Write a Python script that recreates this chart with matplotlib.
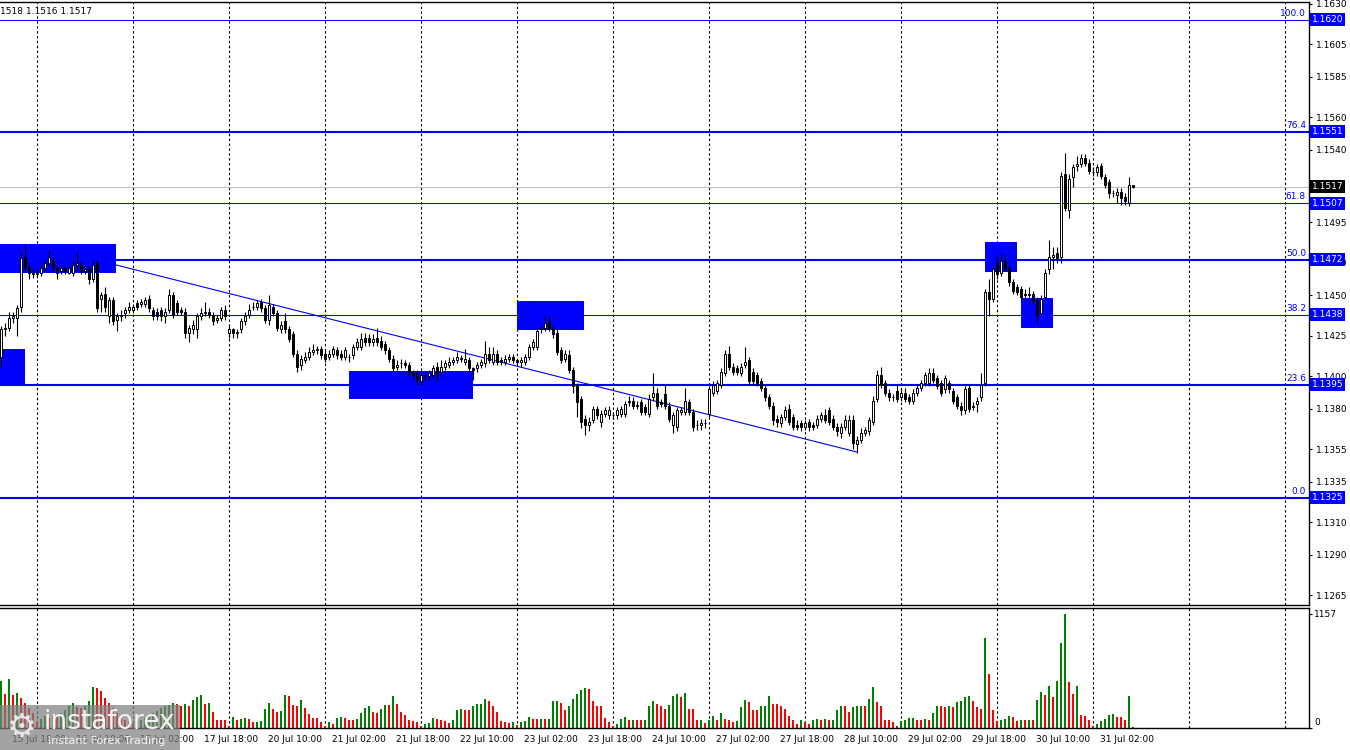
import matplotlib
matplotlib.use('Agg')
import matplotlib.pyplot as plt
import matplotlib.transforms as mtransforms
from matplotlib.patches import Rectangle

# ---------------- data (EURUSD H1) ----------------
opens = [1.1412,1.1429,1.1430,1.1436,1.1436,1.1443,1.1474,1.1467,1.1464,1.1463,
1.1464,1.1467,1.1470,1.1471,1.1467,1.1465,1.1467,1.1464,1.1464,1.1469,
1.1469,1.1465,1.1466,1.1460,1.1470,1.1448,1.1451,1.1437,1.1447,1.1435,
1.1437,1.1439,1.1441,1.1441,1.1445,1.1445,1.1445,1.1448,1.1441,1.1440,
1.1441,1.1437,1.1441,1.1450,1.1445,1.1441,1.1440,1.1427,1.1429,1.1429,
1.1437,1.1439,1.1440,1.1438,1.1435,1.1436,1.1441,1.1427,1.1429,1.1427,
1.1429,1.1434,1.1438,1.1443,1.1443,1.1446,1.1442,1.1435,1.1443,1.1439,
1.1429,1.1434,1.1429,1.1426,1.1414,1.1407,1.1410,1.1412,1.1415,1.1416,
1.1417,1.1414,1.1412,1.1414,1.1416,1.1414,1.1412,1.1412,1.1413,1.1418,
1.1418,1.1424,1.1424,1.1421,1.1424,1.1422,1.1420,1.1416,1.1411,1.1406,
1.1408,1.1408,1.1407,1.1403,1.1402,1.1397,1.1401,1.1400,1.1401,1.1406,
1.1403,1.1406,1.1407,1.1409,1.1410,1.1411,1.1409,1.1410,1.1405,1.1405,
1.1407,1.1408,1.1414,1.1409,1.1414,1.1410,1.1409,1.1411,1.1412,1.1410,
1.1409,1.1409,1.1412,1.1418,1.1418,1.1429,1.1430,1.1434,1.1430,1.1427,
1.1416,1.1411,1.1413,1.1404,1.1394,1.1386,1.1374,1.1370,1.1373,1.1380,
1.1372,1.1377,1.1376,1.1376,1.1376,1.1377,1.1377,1.1385,1.1385,1.1382,
1.1384,1.1381,1.1377,1.1387,1.1390,1.1384,1.1389,1.1382,1.1370,1.1369,
1.1378,1.1378,1.1384,1.1378,1.1370,1.1370,1.1371,1.1377,1.1390,1.1391,
1.1395,1.1402,1.1414,1.1406,1.1405,1.1402,1.1407,1.1410,1.1403,1.1401,
1.1397,1.1393,1.1387,1.1382,1.1374,1.1371,1.1375,1.1380,1.1375,1.1370,
1.1371,1.1369,1.1372,1.1370,1.1370,1.1374,1.1376,1.1379,1.1374,1.1369,
1.1365,1.1369,1.1365,1.1373,1.1358,1.1361,1.1365,1.1366,1.1372,1.1386,
1.1401,1.1396,1.1390,1.1387,1.1391,1.1387,1.1390,1.1387,1.1385,1.1390,
1.1393,1.1396,1.1396,1.1402,1.1399,1.1396,1.1392,1.1396,1.1391,1.1387,
1.1382,1.1379,1.1393,1.1382,1.1383,1.1387,1.1396,1.1452,1.1448,1.1470,
1.1464,1.1471,1.1467,1.1458,1.1455,1.1454,1.1451,1.1450,1.1451,1.1447,
1.1439,1.1449,1.1466,1.1474,1.1476,1.1474,1.1525,1.1503,1.1523,1.1530,
1.1531,1.1535,1.1532,1.1526,1.1526,1.1530,1.1523,1.1520,1.1513,1.1512,
1.1514,1.1511,1.1507,1.1518]
highs = [1.1431,1.1433,1.1440,1.1440,1.1444,1.1476,1.1482,1.1470,1.1466,1.1466,
1.1469,1.1472,1.1478,1.1474,1.1468,1.1469,1.1468,1.1469,1.1471,1.1477,
1.1471,1.1470,1.1468,1.1471,1.1472,1.1452,1.1455,1.1449,1.1449,1.1439,
1.1441,1.1443,1.1446,1.1445,1.1447,1.1448,1.1449,1.1450,1.1443,1.1442,
1.1443,1.1442,1.1454,1.1452,1.1447,1.1443,1.1442,1.1432,1.1435,1.1439,
1.1442,1.1446,1.1442,1.1440,1.1438,1.1443,1.1444,1.1431,1.1430,1.1429,
1.1436,1.1440,1.1445,1.1446,1.1447,1.1448,1.1444,1.1450,1.1445,1.1441,
1.1434,1.1439,1.1431,1.1428,1.1416,1.1413,1.1415,1.1418,1.1420,1.1419,
1.1419,1.1416,1.1416,1.1419,1.1418,1.1416,1.1418,1.1414,1.1420,1.1424,
1.1427,1.1427,1.1426,1.1426,1.1430,1.1425,1.1422,1.1418,1.1413,1.1410,
1.1411,1.1410,1.1409,1.1404,1.1404,1.1403,1.1403,1.1404,1.1407,1.1409,
1.1410,1.1410,1.1412,1.1412,1.1415,1.1413,1.1417,1.1412,1.1406,1.1409,
1.1411,1.1422,1.1418,1.1418,1.1416,1.1412,1.1413,1.1414,1.1414,1.1411,
1.1412,1.1414,1.1420,1.1423,1.1430,1.1432,1.1437,1.1437,1.1432,1.1429,
1.1418,1.1416,1.1416,1.1406,1.1396,1.1388,1.1376,1.1375,1.1382,1.1382,
1.1379,1.1381,1.1382,1.1378,1.1381,1.1382,1.1385,1.1388,1.1387,1.1385,
1.1386,1.1383,1.1389,1.1402,1.1393,1.1386,1.1395,1.1384,1.1378,1.1381,
1.1381,1.1393,1.1386,1.1380,1.1373,1.1374,1.1374,1.1394,1.1397,1.1398,
1.1405,1.1416,1.1419,1.1408,1.1407,1.1408,1.1418,1.1412,1.1405,1.1403,
1.1399,1.1395,1.1389,1.1384,1.1376,1.1377,1.1382,1.1383,1.1377,1.1373,
1.1373,1.1373,1.1374,1.1372,1.1376,1.1378,1.1380,1.1381,1.1376,1.1371,
1.1371,1.1376,1.1376,1.1376,1.1363,1.1368,1.1369,1.1375,1.1388,1.1404,
1.1406,1.1398,1.1392,1.1389,1.1395,1.1392,1.1393,1.1389,1.1392,1.1395,
1.1398,1.1403,1.1405,1.1405,1.1401,1.1398,1.1401,1.1398,1.1393,1.1389,
1.1384,1.1394,1.1395,1.1384,1.1387,1.1402,1.1454,1.1460,1.1468,1.1474,
1.1476,1.1475,1.1469,1.1460,1.1457,1.1456,1.1454,1.1455,1.1453,1.1449,
1.1450,1.1466,1.1484,1.1480,1.1480,1.1526,1.1538,1.1525,1.1531,1.1536,
1.1537,1.1537,1.1534,1.1529,1.1531,1.1532,1.1525,1.1522,1.1515,1.1516,
1.1516,1.1513,1.1523,1.1518]
lows = [1.1406,1.1425,1.1428,1.1433,1.1425,1.1440,1.1465,1.1460,1.1461,1.1461,
1.1462,1.1465,1.1469,1.1465,1.1460,1.1463,1.1463,1.1463,1.1462,1.1466,
1.1463,1.1463,1.1457,1.1458,1.1440,1.1440,1.1440,1.1433,1.1432,1.1428,
1.1434,1.1436,1.1439,1.1439,1.1441,1.1443,1.1443,1.1440,1.1435,1.1435,
1.1434,1.1433,1.1439,1.1436,1.1438,1.1438,1.1424,1.1421,1.1426,1.1424,
1.1435,1.1437,1.1436,1.1432,1.1433,1.1434,1.1435,1.1424,1.1424,1.1424,
1.1427,1.1432,1.1436,1.1441,1.1441,1.1440,1.1433,1.1432,1.1437,1.1428,
1.1427,1.1427,1.1421,1.1412,1.1403,1.1404,1.1408,1.1410,1.1413,1.1414,
1.1411,1.1409,1.1410,1.1412,1.1411,1.1410,1.1410,1.1409,1.1411,1.1416,
1.1416,1.1419,1.1419,1.1419,1.1419,1.1416,1.1414,1.1409,1.1403,1.1404,
1.1405,1.1405,1.1400,1.1398,1.1395,1.1395,1.1398,1.1398,1.1399,1.1397,
1.1400,1.1404,1.1405,1.1407,1.1408,1.1409,1.1407,1.1403,1.1398,1.1403,
1.1405,1.1406,1.1408,1.1407,1.1407,1.1407,1.1407,1.1409,1.1408,1.1407,
1.1406,1.1407,1.1410,1.1416,1.1416,1.1427,1.1428,1.1428,1.1424,1.1413,
1.1408,1.1409,1.1402,1.1390,1.1375,1.1368,1.1364,1.1366,1.1371,1.1374,
1.1369,1.1375,1.1374,1.1374,1.1374,1.1375,1.1375,1.1382,1.1380,1.1380,
1.1376,1.1376,1.1375,1.1385,1.1380,1.1381,1.1380,1.1372,1.1365,1.1366,
1.1376,1.1376,1.1376,1.1366,1.1367,1.1367,1.1368,1.1375,1.1388,1.1389,
1.1393,1.1400,1.1404,1.1401,1.1401,1.1400,1.1405,1.1395,1.1395,1.1394,
1.1391,1.1385,1.1380,1.1370,1.1369,1.1369,1.1373,1.1370,1.1367,1.1367,
1.1366,1.1367,1.1366,1.1367,1.1368,1.1372,1.1371,1.1370,1.1367,1.1363,
1.1362,1.1367,1.1363,1.1355,1.1353,1.1359,1.1363,1.1364,1.1370,1.1384,
1.1393,1.1388,1.1385,1.1385,1.1384,1.1385,1.1384,1.1383,1.1383,1.1388,
1.1391,1.1394,1.1394,1.1396,1.1392,1.1388,1.1390,1.1390,1.1383,1.1380,
1.1376,1.1377,1.1378,1.1379,1.1378,1.1385,1.1394,1.1437,1.1446,1.1460,
1.1462,1.1465,1.1456,1.1451,1.1450,1.1447,1.1448,1.1448,1.1445,1.1433,
1.1437,1.1447,1.1463,1.1466,1.1470,1.1470,1.1502,1.1498,1.1517,1.1527,
1.1529,1.1530,1.1525,1.1524,1.1524,1.1522,1.1516,1.1510,1.1511,1.1507,
1.1506,1.1506,1.1505,1.1516]
closes = [1.1429,1.1430,1.1436,1.1437,1.1442,1.1473,1.1467,1.1464,1.1463,1.1464,
1.1467,1.1470,1.1474,1.1467,1.1464,1.1467,1.1465,1.1467,1.1469,1.1470,
1.1465,1.1466,1.1460,1.1469,1.1442,1.1450,1.1443,1.1447,1.1434,1.1437,
1.1438,1.1441,1.1443,1.1443,1.1443,1.1446,1.1447,1.1442,1.1437,1.1437,
1.1437,1.1440,1.1450,1.1438,1.1440,1.1440,1.1427,1.1430,1.1432,1.1437,
1.1439,1.1440,1.1438,1.1434,1.1436,1.1441,1.1437,1.1429,1.1427,1.1427,
1.1434,1.1437,1.1441,1.1443,1.1445,1.1442,1.1435,1.1444,1.1439,1.1430,
1.1432,1.1429,1.1423,1.1414,1.1406,1.1411,1.1412,1.1415,1.1416,1.1417,
1.1413,1.1411,1.1414,1.1417,1.1413,1.1412,1.1416,1.1412,1.1418,1.1421,
1.1423,1.1421,1.1421,1.1423,1.1421,1.1418,1.1416,1.1411,1.1405,1.1407,
1.1408,1.1407,1.1403,1.1401,1.1398,1.1401,1.1400,1.1402,1.1405,1.1402,
1.1406,1.1408,1.1409,1.1410,1.1412,1.1411,1.1411,1.1405,1.1404,1.1407,
1.1409,1.1414,1.1410,1.1414,1.1409,1.1409,1.1411,1.1412,1.1410,1.1409,
1.1410,1.1412,1.1418,1.1421,1.1428,1.1430,1.1433,1.1430,1.1426,1.1415,
1.1410,1.1414,1.1404,1.1394,1.1384,1.1372,1.1370,1.1372,1.1380,1.1376,
1.1377,1.1379,1.1379,1.1376,1.1379,1.1380,1.1383,1.1384,1.1382,1.1382,
1.1378,1.1378,1.1386,1.1390,1.1382,1.1383,1.1382,1.1374,1.1376,1.1379,
1.1379,1.1385,1.1378,1.1369,1.1370,1.1371,1.1371,1.1392,1.1395,1.1396,
1.1403,1.1414,1.1406,1.1403,1.1403,1.1406,1.1409,1.1397,1.1397,1.1396,
1.1393,1.1387,1.1382,1.1373,1.1372,1.1375,1.1379,1.1372,1.1369,1.1369,
1.1369,1.1371,1.1369,1.1369,1.1374,1.1376,1.1373,1.1372,1.1369,1.1366,
1.1369,1.1373,1.1373,1.1359,1.1361,1.1365,1.1367,1.1373,1.1385,1.1401,
1.1395,1.1390,1.1387,1.1387,1.1386,1.1390,1.1386,1.1385,1.1390,1.1393,
1.1396,1.1401,1.1402,1.1398,1.1394,1.1390,1.1399,1.1392,1.1385,1.1382,
1.1379,1.1392,1.1380,1.1381,1.1385,1.1395,1.1452,1.1448,1.1466,1.1463,
1.1471,1.1467,1.1458,1.1453,1.1452,1.1449,1.1450,1.1451,1.1447,1.1438,
1.1448,1.1464,1.1474,1.1475,1.1473,1.1524,1.1504,1.1522,1.1529,1.1531,
1.1535,1.1532,1.1527,1.1526,1.1529,1.1524,1.1518,1.1513,1.1513,1.1514,
1.1510,1.1508,1.1518,1.1517]
volumes = [482,347,499,330,354,
300,250,200,150,60,90,120,100,130,110,150,180,
220,250,212,202,226,270,
415,404,371,303,250,200,
150,110,80,60,40,60,80,100,120,150,170,200,220,
236,250,246,226,246,226,286,313,337,246,
253,158,84,78,77,24,111,78,91,101,
91,57,64,66,192,253,192,158,168,337,
320,236,226,286,202,145,98,97,57,24,
57,44,101,111,101,78,77,91,152,202,
226,158,152,192,236,235,327,246,158,135,
78,67,57,24,44,51,101,91,84,67,
51,84,185,190,179,178,219,246,247,293,
270,226,158,67,57,55,57,34,57,67,
111,91,90,92,91,93,270,271,253,185,
219,293,347,388,404,394,270,226,219,101,
57,24,44,91,111,78,84,78,77,78,
226,270,246,226,192,236,327,347,310,354,
195,194,84,86,51,78,125,78,152,94,
78,57,74,212,286,259,185,180,226,227,
327,246,245,226,192,118,78,44,84,57,
44,84,94,78,94,84,86,185,226,225,
158,212,219,226,225,297,415,259,219,84,
78,57,24,74,78,101,102,78,77,94,
78,152,226,225,212,219,212,266,270,313,
320,270,212,192,
910,549,179,76,78,91,125,111,67,84,
83,85,80,286,361,337,428,310,472,866,1157,
462,347,428,128,118,78,24,40,67,94,
128,145,111,110,84,327,10]

fib_prices = [1.1620, 1.1551, 1.1507, 1.1472, 1.1438, 1.1395, 1.1325]
fib_names = ["100.0", "76.4", "61.8", "50.0", "38.2", "23.6", "0.0"]
fib_widths = [0.75, 1.5, 0.75, 1.5, 0.75, 1.5, 1.5]
current_price = 1.1517

# zones: (start index, end index, low price, high price)
zone_x0 = [-0.5, -0.5, 87.0, 129.0, 246.0, 255.0]
zone_x1 = [28.75, 6.0, 118.0, 145.75, 254.0, 263.0]
zone_lo = [1.14638, 1.13953, 1.13860, 1.14286, 1.14644, 1.14299]
zone_hi = [1.14817, 1.14169, 1.14033, 1.14465, 1.14830, 1.14484]

trend_x = [28.75, 214.0]
trend_y = [1.14688, 1.13533]

price_ticks = [1.1630, 1.1605, 1.1585, 1.1560, 1.1540, 1.1495, 1.1470,
               1.1450, 1.1425, 1.1400, 1.1380, 1.1355, 1.1335, 1.1310, 1.1290, 1.1265]
date_pos = [3, 19, 35, 51, 67, 83, 99, 115, 131, 147, 163, 179, 195, 211, 227, 243, 259, 275]
date_labels = ["15 Jul 18:00", "16 Jul 10:00", "17 Jul 02:00", "17 Jul 18:00", "20 Jul 10:00",
               "21 Jul 02:00", "21 Jul 18:00", "22 Jul 10:00", "23 Jul 02:00", "23 Jul 18:00",
               "24 Jul 10:00", "27 Jul 02:00", "27 Jul 18:00", "28 Jul 10:00", "29 Jul 02:00",
               "29 Jul 18:00", "30 Jul 10:00", "31 Jul 02:00"]
day_starts = [9 + 24 * k for k in range(14)]
vol_max = 1157

# ---------------- figure ----------------
W, H = 1350, 750
fig = plt.figure(figsize=(W / 100, H / 100), dpi=100)
fig.patch.set_facecolor('white')


def fy(py):
    return 1 - py / H


ax = fig.add_axes([0, fy(605), 1309 / W, fy(2) - fy(605)])
axv = fig.add_axes([0, fy(728), 1309 / W, fy(608) - fy(728)])

XMIN, XMAX = -0.25, 327.0
BLUE = '#0000FF'
FS = 6.5

for a in (ax, axv):
    a.set_xlim(XMIN, XMAX)
    a.set_facecolor('white')
    a.spines['left'].set_visible(False)
    for s in ('top', 'right', 'bottom'):
        a.spines[s].set_linewidth(1.0)
        a.spines[s].set_color('black')
    a.set_xticks([])
    for d in day_starts:
        a.axvline(d, color='black', lw=0.8, ls=(0, (2.2, 2.2)), zorder=0.5)

ax.set_ylim(1.12589, 1.16311)
axv.set_ylim(0, 1218)

n = len(closes)
xs = list(range(n))

# zones
for x0, x1, lo, hi in zip(zone_x0, zone_x1, zone_lo, zone_hi):
    ax.add_patch(Rectangle((x0, lo), x1 - x0, hi - lo, facecolor=BLUE, edgecolor='none', zorder=1.5))

# fib lines
for p, w in zip(fib_prices, fib_widths):
    ax.axhline(p, color=BLUE, lw=w, zorder=1)
ax.axhline(current_price, color='#C0C0C0', lw=0.8, zorder=0.8)
ax.plot(trend_x, trend_y, color=BLUE, lw=0.8, zorder=1.2)

# candles
ax.vlines(xs, lows, highs, color='black', lw=0.8, zorder=3)
bottoms = [min(o, c) for o, c in zip(opens, closes)]
heights = [max(abs(c - o), 0.000012) for o, c in zip(opens, closes)]
faces = ['white' if c >= o else 'black' for o, c in zip(opens, closes)]
ax.bar(xs, heights, bottom=bottoms, width=0.55, color=faces, edgecolor='black', linewidth=0.7, zorder=4)

# fib labels
for p, name in zip(fib_prices, fib_names):
    ax.annotate(name, xy=(326.25, p), xytext=(0, 1.2), textcoords='offset points',
                ha='right', va='bottom', color=BLUE, fontsize=FS, zorder=5)

# right price axis
ax.yaxis.tick_right()
ax.set_yticks(price_ticks)
ax.set_yticklabels(['%.4f' % t for t in price_ticks])
ax.tick_params(axis='y', direction='out', length=2.5, width=0.8, pad=2.5, labelsize=FS, colors='black')

blend = mtransforms.blended_transform_factory(ax.transAxes, ax.transData)
for p in fib_prices:
    ax.text(1.0022, p, '%.4f' % p, transform=blend, ha='left', va='center', color='white',
            fontsize=FS, clip_on=False, zorder=10,
            bbox=dict(boxstyle='square,pad=0.22', fc=BLUE, ec='none'))
ax.text(1.0022, current_price, '%.4f' % current_price, transform=blend, ha='left', va='center',
        color='white', fontsize=FS, clip_on=False, zorder=10,
        bbox=dict(boxstyle='square,pad=0.22', fc='black', ec='none'))

# volumes
vcol = ['#008000'] + ['#008000' if volumes[i] > volumes[i - 1] else '#FF0000' for i in range(1, len(volumes))]
axv.bar(list(range(len(volumes))), volumes, width=0.62, color=vcol, linewidth=0, zorder=2)
axv.yaxis.tick_right()
axv.set_yticks([0, vol_max])
axv.set_yticklabels(['', ''])
axv.tick_params(axis='y', direction='out', length=2.5, width=0.8)
vblend = mtransforms.blended_transform_factory(axv.transAxes, axv.transData)
axv.text(1.004, vol_max, str(vol_max), transform=vblend, ha='left', va='center', fontsize=FS, clip_on=False)
axv.text(1.004, 60, '0', transform=vblend, ha='left', va='center', fontsize=FS, clip_on=False)

# date labels
dblend = mtransforms.blended_transform_factory(axv.transData, axv.transAxes)
for p, lab in zip(date_pos, date_labels):
    axv.text(p - 0.3, -0.1, lab, transform=dblend, ha='left', va='center', fontsize=FS, clip_on=False)

# header
fig.text(0.0, fy(11), '1518 1.1516 1.1517', ha='left', va='center', fontsize=FS, color='black')

# watermark
fig.patches.append(Rectangle((0, fy(750)), 180 / W, 45 / H, transform=fig.transFigure,
                             facecolor='#808080', alpha=0.72, edgecolor='none', zorder=20))
fig.text(22 / W, fy(727), '\u2699', fontsize=24, color='#e8e8e8', ha='center', va='center', zorder=21)
fig.text(44 / W, fy(722), 'instaforex', fontsize=19, color='#f2f2f2', ha='left', va='center', zorder=21)
fig.text(48 / W, fy(741), 'Instant Forex Trading', fontsize=8, color='#f2f2f2', ha='left', va='center', zorder=21)

fig.savefig('out.png', dpi=100, facecolor='white')
